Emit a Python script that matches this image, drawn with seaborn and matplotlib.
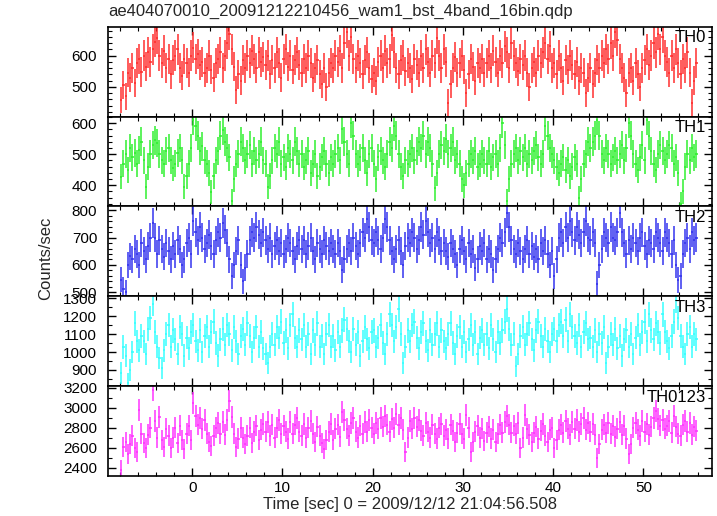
import numpy as np
import pandas as pd
import matplotlib
matplotlib.use("Agg")
import matplotlib.pyplot as plt
from matplotlib.ticker import MultipleLocator
import seaborn as sns

title = "ae404070010_20091212210456_wam1_bst_4band_16bin.qdp"
xlabel = "Time [sec] 0 = 2009/12/12 21:04:56.508"
ylabel = "Counts/sec"
bands = ["TH0", "TH1", "TH2", "TH3", "TH0123"]
colors = ["#ff2a2a", "#2cf02c", "#3030ee", "#33ffff", "#ff30ff"]
t_start = -8.0
bin_width = 0.25

th0 = [
    458, 505, 470, 545, 530, 560, 512, 575, 590, 548, 600, 565, 610, 580, 620, 645,
    655, 600, 575, 615, 560, 590, 540, 585, 600, 620, 560, 535, 590, 575, 545, 600,
    625, 590, 605, 570, 580, 545, 560, 600, 555, 530, 575, 590, 610, 560, 600, 640,
    670, 620, 565, 490, 540, 520, 585, 560, 600, 575, 615, 590, 560, 610, 580, 595,
    570, 600, 540, 585, 560, 610, 575, 530, 590, 620, 565, 600, 555, 585, 610, 570,
    545, 590, 560, 600, 575, 530, 560, 585, 540, 510, 560, 500, 545, 575, 560, 600,
    580, 615, 560, 640, 675, 600, 660, 590, 560, 600, 575, 540, 585, 610, 560, 525,
    545, 520, 580, 600, 560, 615, 575, 590, 665, 610, 560, 540, 585, 600, 550, 575,
    560, 525, 590, 570, 545, 600, 560, 620, 580, 545, 600, 575, 655, 600, 560, 620,
    580, 450, 510, 560, 595, 545, 575, 600, 555, 480, 540, 590, 565, 520, 575, 560,
    590, 545, 575, 600, 560, 615, 580, 545, 600, 575, 630, 610, 560, 640, 600, 575,
    550, 590, 570, 600, 545, 500, 560, 580, 545, 600, 575, 610, 640, 590, 630, 560,
    575, 540, 600, 560, 520, 585, 555, 600, 570, 540, 580, 520, 560, 545, 480, 530,
    560, 510, 545, 585, 560, 600, 575, 620, 590, 640, 600, 675, 650, 590, 560, 530,
    480, 545, 560, 520, 575, 540, 500, 560, 585, 620, 570, 600, 640, 610, 670, 620,
    660, 600, 580, 545, 600, 560, 620, 575, 540, 590, 560, 610, 545, 450, 520, 575,
]
th1 = [
    428, 470, 500, 450, 520, 490, 505, 470, 514, 540, 480, 395, 460, 500, 530, 545,
    536, 500, 480, 470, 510, 520, 480, 455, 470, 505, 520, 480, 395, 430, 470, 520,
    610, 590, 560, 510, 525, 480, 470, 440, 378, 430, 480, 510, 560, 578, 540, 520,
    490, 350, 420, 470, 500, 540, 520, 480, 500, 530, 470, 510, 480, 500, 540, 480,
    470, 395, 430, 480, 520, 500, 540, 470, 490, 460, 520, 500, 480, 540, 510, 470,
    500, 460, 480, 510, 440, 470, 500, 430, 460, 490, 510, 470, 440, 490, 470, 500,
    520, 480, 580, 540, 500, 470, 600, 560, 500, 470, 490, 520, 480, 440, 500, 520,
    470, 420, 490, 510, 480, 460, 500, 540, 520, 590, 560, 500, 460, 430, 480, 470,
    500, 520, 480, 510, 540, 520, 560, 500, 540, 520, 470, 390, 440, 500, 530, 510,
    550, 500, 520, 540, 480, 500, 470, 420, 400, 440, 470, 500, 480, 510, 460, 470,
    500, 480, 470, 510, 460, 490, 500, 470, 520, 600, 530, 350, 420, 470, 500, 520,
    480, 510, 490, 520, 470, 500, 480, 510, 530, 490, 470, 500, 590, 560, 520, 500,
    480, 460, 440, 470, 490, 450, 480, 430, 460, 490, 470, 360, 420, 470, 500, 540,
    520, 540, 560, 610, 560, 500, 480, 520, 500, 470, 490, 510, 480, 500, 530, 480,
    520, 600, 560, 500, 470, 450, 490, 530, 480, 610, 560, 510, 470, 450, 500, 530,
    510, 480, 500, 530, 520, 470, 490, 440, 340, 380, 460, 500, 480, 520, 490, 500,
]
th2 = [
    546, 510, 500, 600, 632, 620, 660, 640, 600, 680, 650, 620, 670, 700, 755, 700,
    640, 690, 660, 630, 680, 650, 620, 670, 640, 690, 660, 600, 620, 680, 700, 640,
    760, 720, 690, 740, 700, 660, 680, 710, 670, 640, 690, 720, 700, 755, 730, 680,
    620, 560, 600, 650, 690, 600, 540, 590, 640, 690, 720, 700, 740, 710, 680, 720,
    690, 660, 700, 640, 670, 690, 650, 680, 640, 660, 700, 680, 650, 620, 670, 690,
    660, 690, 640, 670, 700, 650, 620, 680, 660, 640, 690, 670, 650, 680, 660, 640,
    680, 650, 580, 620, 660, 680, 650, 700, 670, 640, 680, 720, 700, 770, 740, 690,
    680, 720, 690, 660, 700, 770, 740, 690, 650, 620, 660, 690, 650, 600, 670, 700,
    680, 720, 700, 660, 690, 740, 710, 760, 720, 680, 700, 660, 720, 690, 650, 680,
    650, 630, 680, 660, 640, 600, 660, 690, 650, 620, 680, 640, 660, 590, 620, 670,
    650, 680, 620, 660, 640, 580, 620, 660, 700, 680, 720, 790, 740, 690, 660, 640,
    680, 650, 620, 660, 690, 640, 670, 630, 660, 620, 680, 650, 690, 640, 600, 650,
    560, 620, 700, 720, 680, 740, 700, 760, 720, 690, 740, 710, 680, 720, 760, 700,
    690, 720, 680, 530, 600, 660, 720, 700, 680, 740, 700, 690, 720, 790, 720, 680,
    640, 690, 660, 700, 680, 650, 700, 720, 670, 640, 690, 680, 660, 720, 700, 680,
    650, 720, 700, 680, 640, 690, 600, 545, 560, 640, 680, 700, 660, 720, 690, 700,
]
th3 = [
    883, 1028, 980, 828, 900, 1000, 1160, 1060, 1010, 1090, 1060, 990, 1130, 1190, 1270, 1110,
    1030, 965, 910, 1010, 1100, 1150, 1030, 1120, 1070, 990, 1140, 1100, 980, 1080, 1020, 1110,
    1150, 1060, 1010, 1120, 1000, 1090, 1140, 1030, 1110, 1170, 1050, 980, 1070, 1130, 1040, 1150,
    1100, 1010, 1140, 1060, 990, 1090, 1130, 1040, 1160, 1090, 1000, 1080, 1140, 1030, 1110, 1020,
    990, 940, 1030, 1100, 1040, 1140, 1080, 1170, 1050, 1120, 1020, 1150, 1210, 1080, 1030, 1120,
    1070, 1150, 1030, 1100, 990, 1120, 1040, 1160, 1030, 1090, 990, 1100, 1150, 1030, 1090, 1010,
    1110, 1030, 1120, 1180, 1130, 1060, 1000, 1130, 1040, 1110, 980, 1060, 1140, 1070, 1020, 1110,
    1120, 1030, 1080, 1150, 1050, 990, 1100, 1210, 1150, 1060, 1140, 1240, 1100, 940, 1030, 1120,
    1060, 1150, 1170, 1080, 1020, 1110, 1160, 1060, 1010, 1120, 1040, 1100, 1160, 1030, 1120, 1060,
    1020, 1100, 1160, 1050, 990, 1090, 1140, 1030, 1110, 1000, 1070, 1150, 1040, 1110, 990, 1080,
    1120, 1040, 1100, 1020, 1150, 1070, 1000, 1110, 1050, 1120, 1170, 1240, 1130, 1040, 1100, 920,
    990, 1090, 1140, 1040, 1100, 1160, 1070, 1010, 1120, 1170, 1090, 1030, 1130, 1060, 1000, 1100,
    1130, 1060, 1150, 1170, 1090, 1180, 1060, 1210, 1140, 1090, 1050, 1150, 1030, 1110, 1160, 1070,
    1080, 1030, 1120, 1000, 1100, 1050, 1140, 940, 1030, 1100, 1040, 1130, 1020, 1090, 980, 1070,
    1120, 1030, 1100, 990, 1080, 1150, 1040, 1110, 1170, 1060, 1210, 1120, 1070, 1160, 1110, 1050,
    1210, 1110, 1060, 1020, 1090, 1170, 1290, 1190, 1090, 1030, 990, 1100, 1140, 1030, 1100, 1070,
]
th0123 = [
    2380, 2610, 2660, 2540, 2640, 2720, 2600, 2560, 2980, 2740, 2650, 2600, 2730, 2800, 3180, 2870,
    2700, 2910, 2680, 2610, 2790, 2720, 2600, 2700, 2800, 2650, 2820, 2680, 2590, 2740, 2820, 2680,
    3050, 2920, 2830, 2900, 2790, 2880, 2740, 2660, 2620, 2720, 2800, 2850, 2740, 2860, 2730, 2880,
    3070, 2910, 2740, 2610, 2690, 2800, 2700, 2640, 2720, 2800, 2650, 2760, 2820, 2680, 2780, 2840,
    2760, 2860, 2720, 2830, 2700, 2800, 2880, 2740, 2820, 2760, 2690, 2860, 2740, 2830, 2900, 2760,
    2720, 2840, 2700, 2800, 2870, 2740, 2660, 2810, 2720, 2650, 2590, 2680, 2760, 2840, 2680, 2790,
    2830, 2710, 2960, 2880, 2790, 2720, 2850, 2900, 2760, 2700, 2820, 2740, 2860, 2760, 2880, 2800,
    2740, 2850, 2790, 2900, 2810, 2920, 2830, 2760, 2890, 2800, 2940, 2830, 2900, 2780, 2560, 2700,
    2870, 2790, 2900, 2810, 2880, 2770, 2720, 2850, 2760, 2700, 2830, 2740, 2690, 2800, 2840, 2720,
    2780, 2690, 2830, 2770, 2660, 2750, 2840, 2740, 2690, 2930, 2800, 2560, 2660, 2760, 2820, 2700,
    2790, 2670, 2750, 2810, 2690, 2780, 2660, 2740, 2830, 2750, 2860, 2920, 2830, 2750, 2820, 2740,
    2850, 2600, 2700, 2930, 2790, 2730, 2660, 2750, 2810, 2690, 2770, 2840, 2720, 2660, 2780, 2800,
    2600, 2680, 2780, 2830, 2750, 2870, 2790, 2730, 2860, 2790, 2880, 2760, 2840, 2900, 2780, 2850,
    2760, 2840, 2730, 2500, 2640, 2780, 2830, 2750, 2850, 2740, 2820, 2710, 2790, 2860, 2730, 2820,
    2690, 2540, 2640, 2800, 2850, 2780, 2720, 2870, 2760, 2840, 2730, 2810, 2900, 2970, 2890, 2820,
    2880, 2790, 2820, 2870, 2750, 2920, 2810, 2740, 2720, 2830, 2870, 2760, 2850, 2730, 2810, 2770,
]
series = [th0, th1, th2, th3, th0123]
ylims = [(405, 692), (332, 621), (485, 815), (811, 1311), (2320, 3220)]
yticks = [[500, 600], [400, 500, 600], [500, 600, 700, 800],
          [900, 1000, 1100, 1200, 1300], [2400, 2600, 2800, 3000, 3200]]
yminor = [20, 20, 20, 50, 100]

sns.set_theme(style="ticks")
plt.rcParams["font.family"] = ["Liberation Sans", "DejaVu Sans"]
plt.rcParams["xtick.direction"] = "in"
plt.rcParams["ytick.direction"] = "in"

fig, axes = plt.subplots(5, 1, figsize=(7.17, 5.16), dpi=100, sharex=True)
fig.subplots_adjust(left=0.151, right=0.993, top=0.948, bottom=0.078, hspace=0)

n = len(th0)
t = t_start + bin_width * (np.arange(n) + 0.5)

for ax, name, vals, col, yl, yt, ym in zip(axes, bands, series, colors, ylims, yticks, yminor):
    df = pd.DataFrame({"t": t, "rate": np.asarray(vals, float)})
    df["err"] = np.sqrt(df["rate"] / bin_width)
    ax.errorbar(df["t"], df["rate"], xerr=bin_width / 2, yerr=df["err"], fmt="none",
                ecolor=col, elinewidth=1.2, alpha=0.9, capsize=0)
    ax.set_ylim(*yl)
    ax.set_yticks(yt)
    ax.yaxis.set_minor_locator(MultipleLocator(ym))
    ax.xaxis.set_major_locator(MultipleLocator(10))
    ax.xaxis.set_minor_locator(MultipleLocator(2))
    ax.tick_params(axis="both", which="both", direction="in", top=True, right=True,
                   labelsize=11, colors="black")
    ax.tick_params(axis="y", which="major", pad=8)
    ax.tick_params(which="major", length=6, width=1)
    ax.tick_params(which="minor", length=3, width=0.8)
    for s in ax.spines.values():
        s.set_linewidth(1.2)
        s.set_color("black")
    ax.text(0.99, 0.96, name, transform=ax.transAxes, ha="right", va="top",
            fontsize=12, color="black")
    ax.set_xlim(-9.3, 57.6)
    ax.set_ylabel("")

axes[-1].set_xticks([0, 10, 20, 30, 40, 50])
axes[-1].set_xlabel(xlabel, fontsize=12, labelpad=2)
fig.text(0.063, 0.5, ylabel, rotation=90, ha="center", va="center", fontsize=12)
fig.text(0.151, 0.977, title, ha="left", va="center", fontsize=12)

fig.savefig("out.png", dpi=100)
